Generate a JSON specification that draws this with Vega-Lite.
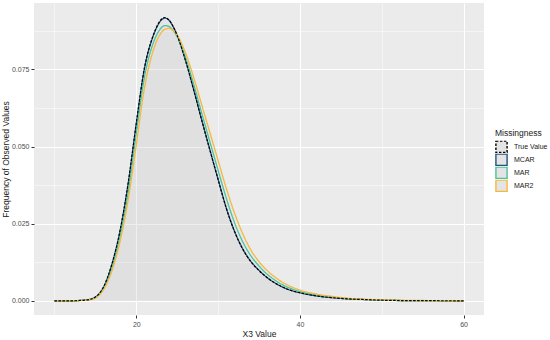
{
  "$schema": "https://vega.github.io/schema/vega-lite/v6.json",
  "autosize": {"type": "none"},
  "width": 450,
  "height": 312,
  "padding": {"left": 34, "top": 3, "right": 66, "bottom": 25},
  "background": "white",
  "config": {
    "font": "Liberation Sans",
    "view": {"fill": "#EBEBEB", "stroke": null},
    "axis": {
      "domain": false,
      "gridColor": "white",
      "labelColor": "#4D4D4D",
      "labelFontSize": 7,
      "tickColor": "#333333",
      "tickSize": 3,
      "labelPadding": 2,
      "titleFontSize": 8.5,
      "titleFontWeight": "normal",
      "titleColor": "#1a1a1a"
    },
    "legend": {
      "orient": "none",
      "legendX": 461,
      "legendY": 126,
      "titleFontSize": 8.5,
      "titleFontWeight": "normal",
      "titleColor": "#1a1a1a",
      "titlePadding": 3,
      "labelFontSize": 7,
      "labelColor": "#1a1a1a",
      "labelOffset": 6,
      "symbolType": "square",
      "symbolSize": 125,
      "symbolStrokeWidth": 1.4,
      "clipHeight": 12.5,
      "rowPadding": 0,
      "padding": 0
    }
  },
  "data": {"values": [
    {"s":"True Value","x":10,"d":0},{"s":"True Value","x":11,"d":0},{"s":"True Value","x":12,"d":0},{"s":"True Value","x":13,"d":0.0001},{"s":"True Value","x":14,"d":0.0003},{"s":"True Value","x":15,"d":0.0012},{"s":"True Value","x":16,"d":0.0045},{"s":"True Value","x":17,"d":0.0117},{"s":"True Value","x":18,"d":0.0225},{"s":"True Value","x":19,"d":0.038},{"s":"True Value","x":20,"d":0.0575},{"s":"True Value","x":21,"d":0.0755},{"s":"True Value","x":22,"d":0.0855},{"s":"True Value","x":22.5,"d":0.0888},{"s":"True Value","x":23,"d":0.091},{"s":"True Value","x":23.5,"d":0.0918},{"s":"True Value","x":24,"d":0.091},{"s":"True Value","x":24.5,"d":0.0889},{"s":"True Value","x":25,"d":0.086},{"s":"True Value","x":26,"d":0.078},{"s":"True Value","x":27,"d":0.0685},{"s":"True Value","x":28,"d":0.0585},{"s":"True Value","x":29,"d":0.0488},{"s":"True Value","x":30,"d":0.0393},{"s":"True Value","x":31,"d":0.03},{"s":"True Value","x":32,"d":0.0225},{"s":"True Value","x":33,"d":0.0168},{"s":"True Value","x":34,"d":0.0127},{"s":"True Value","x":35,"d":0.0098},{"s":"True Value","x":36,"d":0.0075},{"s":"True Value","x":37,"d":0.0057},{"s":"True Value","x":38,"d":0.0043},{"s":"True Value","x":39,"d":0.0033},{"s":"True Value","x":40,"d":0.0026},{"s":"True Value","x":42,"d":0.0016},{"s":"True Value","x":44,"d":0.001},{"s":"True Value","x":46,"d":0.0006},{"s":"True Value","x":48,"d":0.0004},{"s":"True Value","x":50,"d":0.0002},{"s":"True Value","x":52,"d":0.0001},{"s":"True Value","x":55,"d":0.00005},{"s":"True Value","x":60,"d":0},

    {"s":"MCAR","x":10,"d":0},{"s":"MCAR","x":11,"d":0},{"s":"MCAR","x":12,"d":0},{"s":"MCAR","x":13,"d":0.0001},{"s":"MCAR","x":14,"d":0.0003},{"s":"MCAR","x":15,"d":0.0012},{"s":"MCAR","x":16,"d":0.0044},{"s":"MCAR","x":17,"d":0.0116},{"s":"MCAR","x":18,"d":0.0224},{"s":"MCAR","x":19,"d":0.0378},{"s":"MCAR","x":20,"d":0.0573},{"s":"MCAR","x":21,"d":0.0753},{"s":"MCAR","x":22,"d":0.0853},{"s":"MCAR","x":22.5,"d":0.0886},{"s":"MCAR","x":23,"d":0.0908},{"s":"MCAR","x":23.5,"d":0.0916},{"s":"MCAR","x":24,"d":0.0909},{"s":"MCAR","x":24.5,"d":0.0889},{"s":"MCAR","x":25,"d":0.086},{"s":"MCAR","x":26,"d":0.0781},{"s":"MCAR","x":27,"d":0.0686},{"s":"MCAR","x":28,"d":0.0586},{"s":"MCAR","x":29,"d":0.0489},{"s":"MCAR","x":30,"d":0.0394},{"s":"MCAR","x":31,"d":0.0301},{"s":"MCAR","x":32,"d":0.0226},{"s":"MCAR","x":33,"d":0.0169},{"s":"MCAR","x":34,"d":0.0128},{"s":"MCAR","x":35,"d":0.0099},{"s":"MCAR","x":36,"d":0.0075},{"s":"MCAR","x":37,"d":0.0057},{"s":"MCAR","x":38,"d":0.0043},{"s":"MCAR","x":39,"d":0.0033},{"s":"MCAR","x":40,"d":0.0026},{"s":"MCAR","x":42,"d":0.0016},{"s":"MCAR","x":44,"d":0.001},{"s":"MCAR","x":46,"d":0.0006},{"s":"MCAR","x":48,"d":0.0004},{"s":"MCAR","x":50,"d":0.0002},{"s":"MCAR","x":52,"d":0.0001},{"s":"MCAR","x":55,"d":0.00005},{"s":"MCAR","x":60,"d":0},

    {"s":"MAR","x":10,"d":0},{"s":"MAR","x":11,"d":0},{"s":"MAR","x":12,"d":0},{"s":"MAR","x":13,"d":0.0001},{"s":"MAR","x":14,"d":0.0003},{"s":"MAR","x":15,"d":0.0011},{"s":"MAR","x":16,"d":0.0041},{"s":"MAR","x":17,"d":0.0105},{"s":"MAR","x":18,"d":0.0208},{"s":"MAR","x":19,"d":0.035},{"s":"MAR","x":20,"d":0.0543},{"s":"MAR","x":21,"d":0.0725},{"s":"MAR","x":22,"d":0.083},{"s":"MAR","x":22.5,"d":0.0862},{"s":"MAR","x":23,"d":0.0883},{"s":"MAR","x":23.5,"d":0.0892},{"s":"MAR","x":24,"d":0.0889},{"s":"MAR","x":24.5,"d":0.0876},{"s":"MAR","x":25,"d":0.0856},{"s":"MAR","x":26,"d":0.079},{"s":"MAR","x":27,"d":0.0703},{"s":"MAR","x":28,"d":0.0608},{"s":"MAR","x":29,"d":0.0515},{"s":"MAR","x":30,"d":0.0423},{"s":"MAR","x":31,"d":0.0333},{"s":"MAR","x":32,"d":0.0254},{"s":"MAR","x":33,"d":0.0192},{"s":"MAR","x":34,"d":0.0146},{"s":"MAR","x":35,"d":0.0113},{"s":"MAR","x":36,"d":0.0086},{"s":"MAR","x":37,"d":0.0066},{"s":"MAR","x":38,"d":0.005},{"s":"MAR","x":39,"d":0.0039},{"s":"MAR","x":40,"d":0.003},{"s":"MAR","x":42,"d":0.0019},{"s":"MAR","x":44,"d":0.0012},{"s":"MAR","x":46,"d":0.0007},{"s":"MAR","x":48,"d":0.0004},{"s":"MAR","x":50,"d":0.0002},{"s":"MAR","x":52,"d":0.0001},{"s":"MAR","x":55,"d":0.00005},{"s":"MAR","x":60,"d":0},

    {"s":"MAR2","x":10,"d":0},{"s":"MAR2","x":11,"d":0},{"s":"MAR2","x":12,"d":0},{"s":"MAR2","x":13,"d":0.0001},{"s":"MAR2","x":14,"d":0.0002},{"s":"MAR2","x":15,"d":0.0009},{"s":"MAR2","x":16,"d":0.0036},{"s":"MAR2","x":17,"d":0.0095},{"s":"MAR2","x":18,"d":0.019},{"s":"MAR2","x":19,"d":0.0325},{"s":"MAR2","x":20,"d":0.0505},{"s":"MAR2","x":21,"d":0.069},{"s":"MAR2","x":22,"d":0.0805},{"s":"MAR2","x":22.5,"d":0.0842},{"s":"MAR2","x":23,"d":0.0867},{"s":"MAR2","x":23.5,"d":0.088},{"s":"MAR2","x":24,"d":0.0883},{"s":"MAR2","x":24.5,"d":0.0876},{"s":"MAR2","x":25,"d":0.0861},{"s":"MAR2","x":26,"d":0.0805},{"s":"MAR2","x":27,"d":0.0725},{"s":"MAR2","x":28,"d":0.0635},{"s":"MAR2","x":29,"d":0.0545},{"s":"MAR2","x":30,"d":0.0455},{"s":"MAR2","x":31,"d":0.0365},{"s":"MAR2","x":32,"d":0.0285},{"s":"MAR2","x":33,"d":0.0218},{"s":"MAR2","x":34,"d":0.0165},{"s":"MAR2","x":35,"d":0.0127},{"s":"MAR2","x":36,"d":0.0098},{"s":"MAR2","x":37,"d":0.0076},{"s":"MAR2","x":38,"d":0.0058},{"s":"MAR2","x":39,"d":0.0045},{"s":"MAR2","x":40,"d":0.0035},{"s":"MAR2","x":42,"d":0.0022},{"s":"MAR2","x":44,"d":0.0014},{"s":"MAR2","x":46,"d":0.0008},{"s":"MAR2","x":48,"d":0.0005},{"s":"MAR2","x":50,"d":0.0003},{"s":"MAR2","x":52,"d":0.0002},{"s":"MAR2","x":55,"d":0.0001},{"s":"MAR2","x":60,"d":0}
  ]},
  "encoding": {
    "x": {
      "field": "x", "type": "quantitative",
      "scale": {"domain": [7.5, 62.5], "nice": false, "zero": false},
      "axis": {
        "title": "X3 Value",
        "values": [10, 20, 30, 40, 50, 60],
        "labelExpr": "datum.value % 20 == 0 ? datum.label : ''",
        "gridWidth": {"condition": {"test": "datum.value % 20 == 0", "value": 1.1}, "value": 0.5},
        "tickOpacity": {"condition": {"test": "datum.value % 20 == 0", "value": 1}, "value": 0},
        "titlePadding": 2
      }
    },
    "y": {
      "field": "d", "type": "quantitative",
      "scale": {"domain": [-0.0046, 0.0965], "nice": false, "zero": false},
      "axis": {
        "title": "Frequency of Observed Values",
        "values": [0, 0.0125, 0.025, 0.0375, 0.05, 0.0625, 0.075, 0.0875],
        "format": ".3f",
        "labelExpr": "round(datum.value * 10000) % 250 == 0 ? datum.label : ''",
        "gridWidth": {"condition": {"test": "round(datum.value * 10000) % 250 == 0", "value": 1.1}, "value": 0.5},
        "tickOpacity": {"condition": {"test": "round(datum.value * 10000) % 250 == 0", "value": 1}, "value": 0},
        "titlePadding": 1
      }
    }
  },
  "layer": [
    {
      "mark": {"type": "area", "color": "#c8c8c8", "opacity": 0.07, "interpolate": "monotone"},
      "encoding": {
        "y": {"field": "d", "type": "quantitative", "stack": null},
        "detail": {"field": "s"}
      }
    },
    {
      "transform": [{"filter": "datum.s != 'True Value'"}],
      "mark": {"type": "line", "strokeWidth": 1.3, "interpolate": "monotone"},
      "encoding": {
        "color": {"field": "s", "type": "nominal", "title": "Missingness",
          "scale": {"domain": ["True Value", "MCAR", "MAR", "MAR2"], "range": ["#000000", "#24527e", "#4cc29d", "#f5b83f"]},
          "legend": {"encode": {"symbols": {"update": {"fill": {"value": "#e4e4e4"}, "fillOpacity": {"value": 1}, "opacity": {"value": 1}}}}}},
        "strokeDash": {"field": "s", "type": "nominal", "title": "Missingness",
          "scale": {"domain": ["True Value", "MCAR", "MAR", "MAR2"], "range": [[2.5, 1.5], [1, 0], [1, 0], [1, 0]]}}
      }
    },
    {
      "transform": [{"filter": "datum.s == 'True Value'"}],
      "mark": {"type": "line", "strokeWidth": 1.2, "interpolate": "monotone"},
      "encoding": {
        "color": {"field": "s", "type": "nominal", "title": "Missingness"},
        "strokeDash": {"field": "s", "type": "nominal", "title": "Missingness"}
      }
    }
  ]
}
